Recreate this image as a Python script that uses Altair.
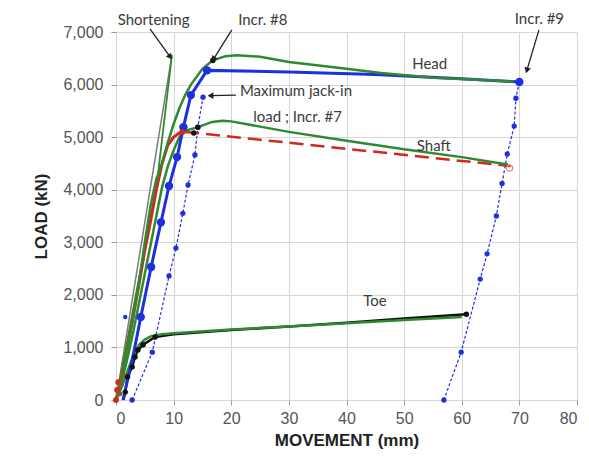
import math
import altair as alt
import pandas as pd

# ---------------- data (movement mm, load kN) ----------------
head_meas_x = [0, 1, 2, 3, 4, 5, 6, 7, 8, 9, 10, 11, 12, 13, 14, 15, 16.8, 19, 21, 25, 30, 40, 46, 55, 69]
head_meas_y = [0, 450, 1000, 1600, 2250, 3000, 3700, 4200, 4500, 4900, 5250, 5550, 5800, 6000, 6150, 6300, 6460, 6540, 6560, 6530, 6430, 6300, 6220, 6130, 6060]

shaft_meas_x = [0, 1, 2, 3, 4, 5, 6, 7, 8, 9, 10, 11, 12, 14.2, 16.7, 18.5, 20, 25, 30, 40, 50, 60, 68]
shaft_meas_y = [0, 350, 800, 1300, 1850, 2400, 2950, 3500, 4050, 4450, 4750, 5000, 5120, 5190, 5290, 5310, 5300, 5200, 5100, 4930, 4770, 4620, 4480]

toe_meas_x = [0, 1, 2, 3, 4, 5, 6, 8, 10, 20, 30, 40, 50, 60]
toe_meas_y = [0, 250, 550, 850, 1050, 1150, 1210, 1250, 1270, 1340, 1400, 1460, 1520, 1580]

short_meas_x = [0, 7.1, 9.7]
short_meas_y = [0, 4120, 6560]
short_calc_x = [0, 9.7]
short_calc_y = [0, 6560]

head_calc_x = [1.2, 2.8, 4.3, 6.1, 7.8, 9.2, 10.6, 11.7, 13.0, 15.8, 30, 45, 60, 70]
head_calc_y = [0, 750, 1580, 2530, 3380, 4070, 4620, 5190, 5800, 6270, 6240, 6190, 6110, 6050]
head_mark_x = [4.3, 6.1, 7.8, 9.2, 10.6, 11.7, 13.0, 15.8, 70]
head_mark_y = [1580, 2530, 3380, 4070, 4620, 5190, 5800, 6270, 6050]

shaft_calc_x = [0, 1, 2, 3, 4, 5, 6, 7, 8, 9, 10, 11, 12]
shaft_calc_y = [0, 450, 1000, 1600, 2200, 2850, 3400, 4000, 4500, 4850, 5000, 5080, 5100]
shaft_dash_x = [12, 68.5]
shaft_dash_y = [5100, 4450]

toe_calc_x = [1.3, 1.6, 2.0, 2.8, 3.3, 3.8, 4.7, 6.8, 10, 20, 30, 40, 50, 60.8]
toe_calc_y = [0, 150, 440, 630, 820, 950, 1050, 1200, 1250, 1330, 1400, 1470, 1550, 1630]
toe_mark_x = [1.6, 2.0, 2.8, 3.3, 3.8, 4.7, 6.8, 60.8]
toe_mark_y = [150, 440, 630, 820, 950, 1050, 1200, 1630]

incr7_x = [2.8, 6.3, 9.2, 10.4, 11.6, 12.5, 13.7, 14.2, 15.1]
incr7_y = [0, 910, 2360, 2890, 3550, 4090, 4660, 5190, 5760]

incr9_x = [70, 69.4, 69.1, 67.9, 67.0, 66.0, 64.4, 63.2, 59.9, 56.9]
incr9_y = [6050, 5740, 5210, 4680, 4120, 3500, 2780, 2300, 910, 0]

black_dot_x = [16.8, 14.2, 13.5]
black_dot_y = [6460, 5190, 5080]
red_dot_x = [0, 0.2, 0.4, 11.5]
red_dot_y = [0, 190, 340, 5100]
brown_dot_x = [0.6, 0.9, 1.2]
brown_dot_y = [120, 300, 480]
blue_dot_x = [1.6]
blue_dot_y = [1580]

label_text = ["Shortening", "Incr. #8", "Incr. #9", "Maximum jack-in", "load ;  Incr. #7", "Head", "Shaft", "Toe"]
label_x = [0.3, 21.2, 69.2, 21.5, 23.8, 51.4, 52.2, 42.9]
label_y = [7230, 7230, 7250, 5878, 5383, 6392, 4832, 1883]

arrow_x1 = [5.9, 20.1, 73.4, 20.8]
arrow_y1 = [7060, 7040, 7040, 5800]
arrow_x2 = [9.4, 16.9, 71.3, 16.4]
arrow_y2 = [6525, 6480, 6270, 5790]

# ---------------- helpers ----------------
W, H = 461, 368
XD, YD = [0, 80], [0, 7000]
PX = W / (XD[1] - XD[0])
PY = H / (YD[1] - YD[0])
AXF = "Arial"


def df(xv, yv):
    return pd.DataFrame({"x": xv, "y": yv, "i": list(range(len(xv)))})


xenc = alt.X("x:Q", scale=alt.Scale(domain=XD, nice=False, zero=False),
             axis=alt.Axis(values=list(range(0, 81, 10)), title="MOVEMENT  (mm)",
                           labelFont=AXF, labelFontSize=16, labelColor="#555555",
                           titleFont=AXF, titleFontSize=17, titleFontWeight="bold",
                           titleColor="#222222", labelPadding=5, tickSize=5, tickColor="#999999",
                           titlePadding=6, grid=True, gridColor="#d6d6d6", domain=False))
yenc = alt.Y("y:Q", scale=alt.Scale(domain=YD, nice=False, zero=False),
             axis=alt.Axis(values=list(range(0, 7001, 1000)), format=",d", title="LOAD  (kN)",
                           labelFont=AXF, labelFontSize=16, labelColor="#555555",
                           titleFont=AXF, titleFontSize=17, titleFontWeight="bold",
                           titleColor="#222222", labelPadding=8, tickSize=5, tickColor="#999999",
                           titlePadding=12, grid=True, gridColor="#d6d6d6", domain=False))
xs = alt.X("x:Q", scale=alt.Scale(domain=XD, nice=False, zero=False))
ys = alt.Y("y:Q", scale=alt.Scale(domain=YD, nice=False, zero=False))

GREEN = "#2f8a2f"
BLUE = "#1f2fe0"
RED = "#cf2a1f"


def line(xv, yv, color, width, dash=None, first=False):
    kw = dict(color=color, strokeWidth=width, clip=False)
    if dash:
        kw["strokeDash"] = dash
    return alt.Chart(df(xv, yv)).mark_line(**kw).encode(
        x=xenc if first else xs, y=yenc if first else ys, order="i:Q")


def pts(xv, yv, color, size, filled=True):
    return alt.Chart(df(xv, yv)).mark_point(color=color, size=size, filled=filled, opacity=1,
                                              strokeWidth=1.2).encode(x=xs, y=ys)


layers = [
    line(short_calc_x, short_calc_y, "#7a7a7a", 1.5, first=True),
    line(short_meas_x, short_meas_y, GREEN, 1.8),
    line(toe_calc_x, toe_calc_y, "#111111", 2.5),
    line(toe_meas_x, toe_meas_y, GREEN, 2.5),
    line(incr7_x, incr7_y, BLUE, 1.2, dash=[3, 2]),
    line(incr9_x, incr9_y, BLUE, 1.2, dash=[3, 2]),
    line(shaft_calc_x, shaft_calc_y, RED, 3),
    line(shaft_dash_x, shaft_dash_y, RED, 2.5, dash=[14, 7]),
    line(shaft_meas_x, shaft_meas_y, GREEN, 2.5),
    line(head_calc_x, head_calc_y, BLUE, 3),
    line(head_meas_x, head_meas_y, GREEN, 2.5),
    pts(incr7_x, incr7_y, BLUE, 28),
    pts(incr9_x, incr9_y, BLUE, 28),
    pts(head_mark_x, head_mark_y, BLUE, 70),
    pts(toe_mark_x, toe_mark_y, "#111111", 30),
    pts(black_dot_x, black_dot_y, "#111111", 30),
    pts(red_dot_x, red_dot_y, RED, 35),
    pts(brown_dot_x, brown_dot_y, "#8a5a2a", 30),
    pts(blue_dot_x, blue_dot_y, BLUE, 20),
    pts([68.3], [4410], "#e08a60", 40, filled=False),
]

# arrows
arr = pd.DataFrame({"x": arrow_x1, "y": arrow_y1, "x2": arrow_x2, "y2": arrow_y2})
arr["ang"] = [
    math.degrees(math.atan2((b - a) * PX, (d - c) * PY)) % 360
    for a, b, c, d in zip(arrow_x1, arrow_x2, arrow_y1, arrow_y2)
]
layers.append(alt.Chart(arr).mark_rule(color="#222222", strokeWidth=1.3, clip=False).encode(
    x=xs, y=ys, x2="x2:Q", y2="y2:Q"))
layers.append(alt.Chart(arr).mark_point(shape="triangle-up", filled=True, color="#222222", size=45,
                                        opacity=1, clip=False).encode(
    x=alt.X("x2:Q", scale=alt.Scale(domain=XD, nice=False, zero=False)),
    y=alt.Y("y2:Q", scale=alt.Scale(domain=YD, nice=False, zero=False)),
    angle=alt.Angle("ang:Q", scale=None)))

lab = pd.DataFrame({"x": label_x, "y": label_y, "t": label_text})
layers.append(alt.Chart(lab).mark_text(align="left", baseline="middle", font="Lato", fontSize=15,
                                       color="#3a3a3a", clip=False).encode(x=xs, y=ys, text="t:N"))

chart = alt.layer(*layers).properties(
    width=W, height=H,
    autosize=alt.AutoSizeParams(type="none"),
    padding={"left": 108, "top": 24, "right": 4, "bottom": 50},
).configure_view(stroke="#8a8a8a", strokeWidth=1.5).configure(background="white")

chart.save("out.html", embed_options={"renderer": "svg", "actions": False})
